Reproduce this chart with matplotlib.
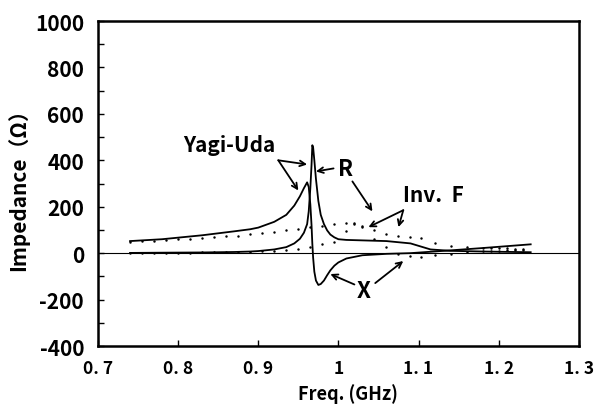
import matplotlib
matplotlib.use("Agg")
import matplotlib.pyplot as plt

# Yagi-Uda (solid lines)
yagi_freq = [0.74, 0.78, 0.83, 0.87, 0.89, 0.90, 0.92, 0.935, 0.945, 0.952, 0.957,
             0.961, 0.963, 0.965, 0.9665, 0.9675, 0.9685, 0.970, 0.972, 0.975,
             0.978, 0.982, 0.986, 0.99, 0.995, 1.0, 1.01, 1.03, 1.06, 1.09,
             1.115, 1.14, 1.18, 1.24]
yagi_r = [1, 2, 3, 5, 7, 9, 16, 26, 42, 62, 88,
          125, 180, 280, 380, 465, 455, 400, 320, 225,
          165, 125, 98, 80, 68, 60, 57, 55, 52, 42,
          16, 10, 7, 4]
yagi_x = [52, 60, 77, 94, 103, 110, 135, 165, 205, 245, 280,
          305, 285, 210, 120, 40, -20, -80, -118, -137,
          -133, -118, -95, -74, -54, -40, -23, -9, -3, 0,
          6, 12, 22, 38]

# Inv. F (dotted)
invf_freq = [0.74, 0.755, 0.77, 0.785, 0.80, 0.815, 0.83, 0.845, 0.86, 0.875,
             0.89, 0.905, 0.92, 0.935, 0.95, 0.965, 0.98, 0.995, 1.01, 1.02,
             1.03, 1.045, 1.06, 1.075, 1.09, 1.1025, 1.12, 1.14, 1.16, 1.18,
             1.19, 1.2, 1.21, 1.22, 1.23]
invf_r = [48, 51, 53, 56, 59, 62, 65, 69, 72, 76,
          81, 86, 93, 98, 104, 112, 118, 124, 128, 126,
          118, 100, 84, 74, 68, 64, 45, 32, 26, 23,
          22, 21, 21, 20, 20]
invf_x = [0, 0, 1, 1, 2, 2, 3, 3, 4, 5,
          6, 8, 10, 12, 16, 25, 38, 50, 95, 130,
          112, 60, 25, -5, -14, -17, -10, -3, 4, 8,
          10, 11, 12, 12, 12]

x_ticks = [0.7, 0.8, 0.9, 1.0, 1.1, 1.2, 1.3]
x_tick_labels = ["0. 7", "0. 8", "0. 9", "1", "1. 1", "1. 2", "1. 3"]
y_ticks = [-400, -200, 0, 200, 400, 600, 800, 1000]

narrow = ["Liberation Sans Narrow", "Noto Sans CJK JP", "DejaVu Sans"]
gothic = ["Noto Sans CJK JP", "DejaVu Sans"]

fig = plt.figure(figsize=(5.95, 4.06), dpi=100)
ax = fig.add_axes([0.1647, 0.1453, 0.808, 0.8005])

ax.plot(yagi_freq, yagi_r, color="black", lw=1.3)
ax.plot(yagi_freq, yagi_x, color="black", lw=1.3)
ax.plot(invf_freq, invf_r, ls="none", marker=".", ms=1.5, color="black")
ax.plot(invf_freq, invf_x, ls="none", marker=".", ms=1.5, color="black")
ax.axhline(0, color="black", lw=0.8)

ax.set_xlim(0.7, 1.3)
ax.set_ylim(-400, 1000)
ax.set_xticks(x_ticks)
ax.set_xticklabels(x_tick_labels, family=gothic, fontsize=12.5, weight="bold")
ax.set_yticks(y_ticks)
ax.set_yticks(range(-300, 1000, 200), minor=True)
ax.set_yticklabels([str(v) for v in y_ticks], family=narrow, fontsize=15, weight="bold")
ax.tick_params(direction="in", length=4, width=1, pad=10)
ax.tick_params(axis="x", pad=9)
ax.tick_params(axis="y", which="minor", direction="in", length=4, width=1)
for s in ax.spines.values():
    s.set_linewidth(1.8)

# x label placed in figure coords so it fits inside the bottom edge
fig.text(0.585, 0.03, "Freq. (GHz)", family=gothic, fontsize=13, weight="bold",
         ha="center", va="center")
ax.set_ylabel("Impedance（Ω）", family=narrow, fontsize=15, weight="bold", labelpad=4)

# annotations
arr = dict(arrowstyle="->", color="black", lw=1.3, shrinkA=0, shrinkB=0)
ax.text(0.864, 468, "Yagi-Uda", family=gothic, fontsize=15, weight="bold",
        ha="center", va="center")
ax.annotate("", xy=(0.961, 382), xytext=(0.925, 400), arrowprops=arr)
ax.annotate("", xy=(0.95, 270), xytext=(0.925, 400), arrowprops=arr)

ax.text(1.009, 365, "R", family=gothic, fontsize=16, weight="bold", ha="center", va="center")
ax.annotate("", xy=(0.972, 352), xytext=(0.994, 365), arrowprops=arr)
ax.annotate("", xy=(1.0425, 180), xytext=(1.0175, 309), arrowprops=arr)

ax.text(1.119, 253, "Inv.  F", family=gothic, fontsize=15, weight="bold",
        ha="center", va="center")
ax.annotate("", xy=(1.0375, 112), xytext=(1.081, 185), arrowprops=arr)
ax.annotate("", xy=(1.075, 112), xytext=(1.081, 185), arrowprops=arr)

ax.text(1.031, -163, "X", family=gothic, fontsize=16, weight="bold", ha="center", va="center")
ax.annotate("", xy=(0.99, -90), xytext=(1.02, -135), arrowprops=arr)
ax.annotate("", xy=(1.081, -34), xytext=(1.046, -129), arrowprops=arr)

fig.savefig("out.png", dpi=100)
